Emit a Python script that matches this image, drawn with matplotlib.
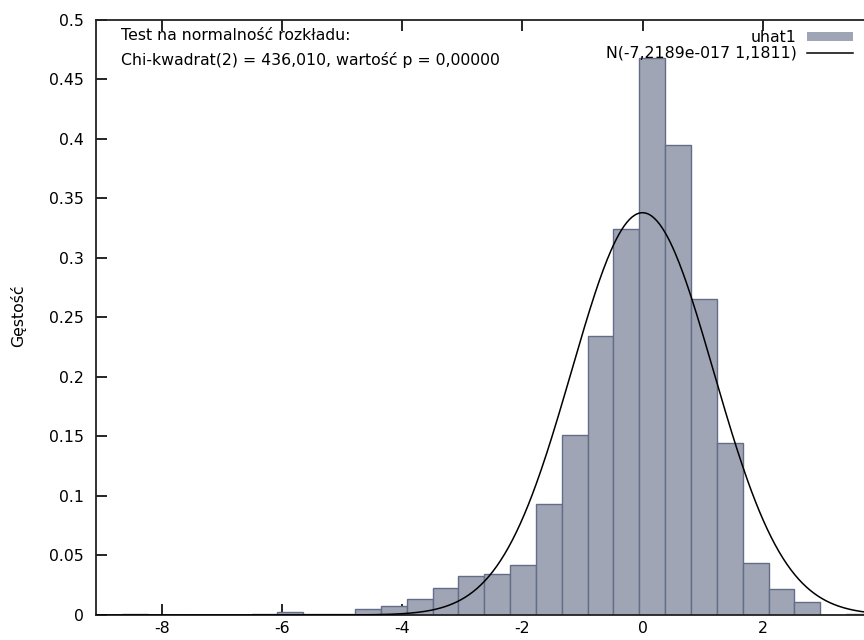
import numpy as np
import matplotlib
matplotlib.use("Agg")
import matplotlib.pyplot as plt
from matplotlib.patches import Patch
from matplotlib.lines import Line2D

# ---- data ----
bin_min = -8.656
bin_max = 3.818
densities = [0.0011, 0.0, 0.0, 0.0, 0.0, 0.0011, 0.0023, 0.0010, 0.0010,
             0.0054, 0.0076, 0.0132, 0.0228, 0.0331, 0.0342, 0.0424, 0.0930,
             0.1511, 0.2345, 0.3238, 0.4680, 0.3950, 0.2650, 0.1442, 0.0434,
             0.0221, 0.0109, 0.0, 0.0011]
norm_mean = -7.2189e-17
norm_sd = 1.1811
xticks = [-8, -6, -4, -2, 0, 2]
yticks = [0, 0.05, 0.1, 0.15, 0.2, 0.25, 0.3, 0.35, 0.4, 0.45, 0.5]
ytick_labels = ["0", "0.05", "0.1", "0.15", "0.2", "0.25", "0.3", "0.35", "0.4", "0.45", "0.5"]
series_label = "uhat1"
norm_label = "N(-7,2189e-017 1,1811)"
test_lines = ["Test na normalność rozkładu:",
              "Chi-kwadrat(2) = 436,010, wartość p = 0,00000"]
ylabel = "Gęstość"

plt.rcParams['font.family'] = ['DejaVu Sans']
FS = 11.3
fill_col = "#9fa5b5"
edge_col = "#636d88"

fig = plt.figure(figsize=(8.64, 6.4), dpi=100)
W, H = 864, 640
x0_px, x1_px = 96, 882.9
y0_px, y1_px = 615, 19.5
ax = fig.add_axes([x0_px / W, 1 - y0_px / H, (x1_px - x0_px) / W, (y0_px - y1_px) / H])

edges = np.linspace(bin_min, bin_max, len(densities) + 1)
width = edges[1] - edges[0]
ax.bar(edges[:-1], densities, width=width, align='edge', color=fill_col,
       edgecolor=edge_col, linewidth=1.0, zorder=2)

xlim = (-9.094, 4.0)
xs = np.linspace(xlim[0], xlim[1], 600)
ys = np.exp(-0.5 * ((xs - norm_mean) / norm_sd) ** 2) / (norm_sd * np.sqrt(2 * np.pi))
ax.plot(xs, ys, color="black", lw=1.1, zorder=3)

ax.set_xlim(*xlim)
ax.set_ylim(0, 0.5)
ax.set_xticks(xticks)
ax.set_xticklabels([str(t) for t in xticks])
ax.set_yticks(yticks)
ax.set_yticklabels(ytick_labels)
ax.tick_params(direction='in', length=8, width=1.2, labelsize=FS, colors='black',
               top=True, right=False)
ax.tick_params(axis='x', pad=4)
ax.tick_params(axis='y', pad=9)
for s in ax.spines.values():
    s.set_linewidth(1.3)
    s.set_color("#222222")
ax.spines['right'].set_visible(False)

fig.text(18 / W, 1 - 316 / H, ylabel, rotation=90, ha='center', va='center', fontsize=FS)

fig.text(121 / W, 1 - 36 / H, test_lines[0], ha='left', va='center', fontsize=FS)
fig.text(121 / W, 1 - 60.5 / H, test_lines[1], ha='left', va='center', fontsize=FS)

handles = [Patch(facecolor=fill_col, edgecolor='none'),
           Line2D([0], [0], color='black', lw=1.1)]
fs_px = FS * 100 / 72
leg = fig.legend(handles, [series_label, norm_label], loc='upper right',
                 bbox_to_anchor=(853 / W, 1 - 30 / H), bbox_transform=fig.transFigure,
                 frameon=False, markerfirst=False, fontsize=FS, borderpad=0,
                 borderaxespad=0, handlelength=46 / fs_px, handleheight=0.55,
                 handletextpad=10 / fs_px, labelspacing=0.05)

fig.savefig("out.png", dpi=100)
